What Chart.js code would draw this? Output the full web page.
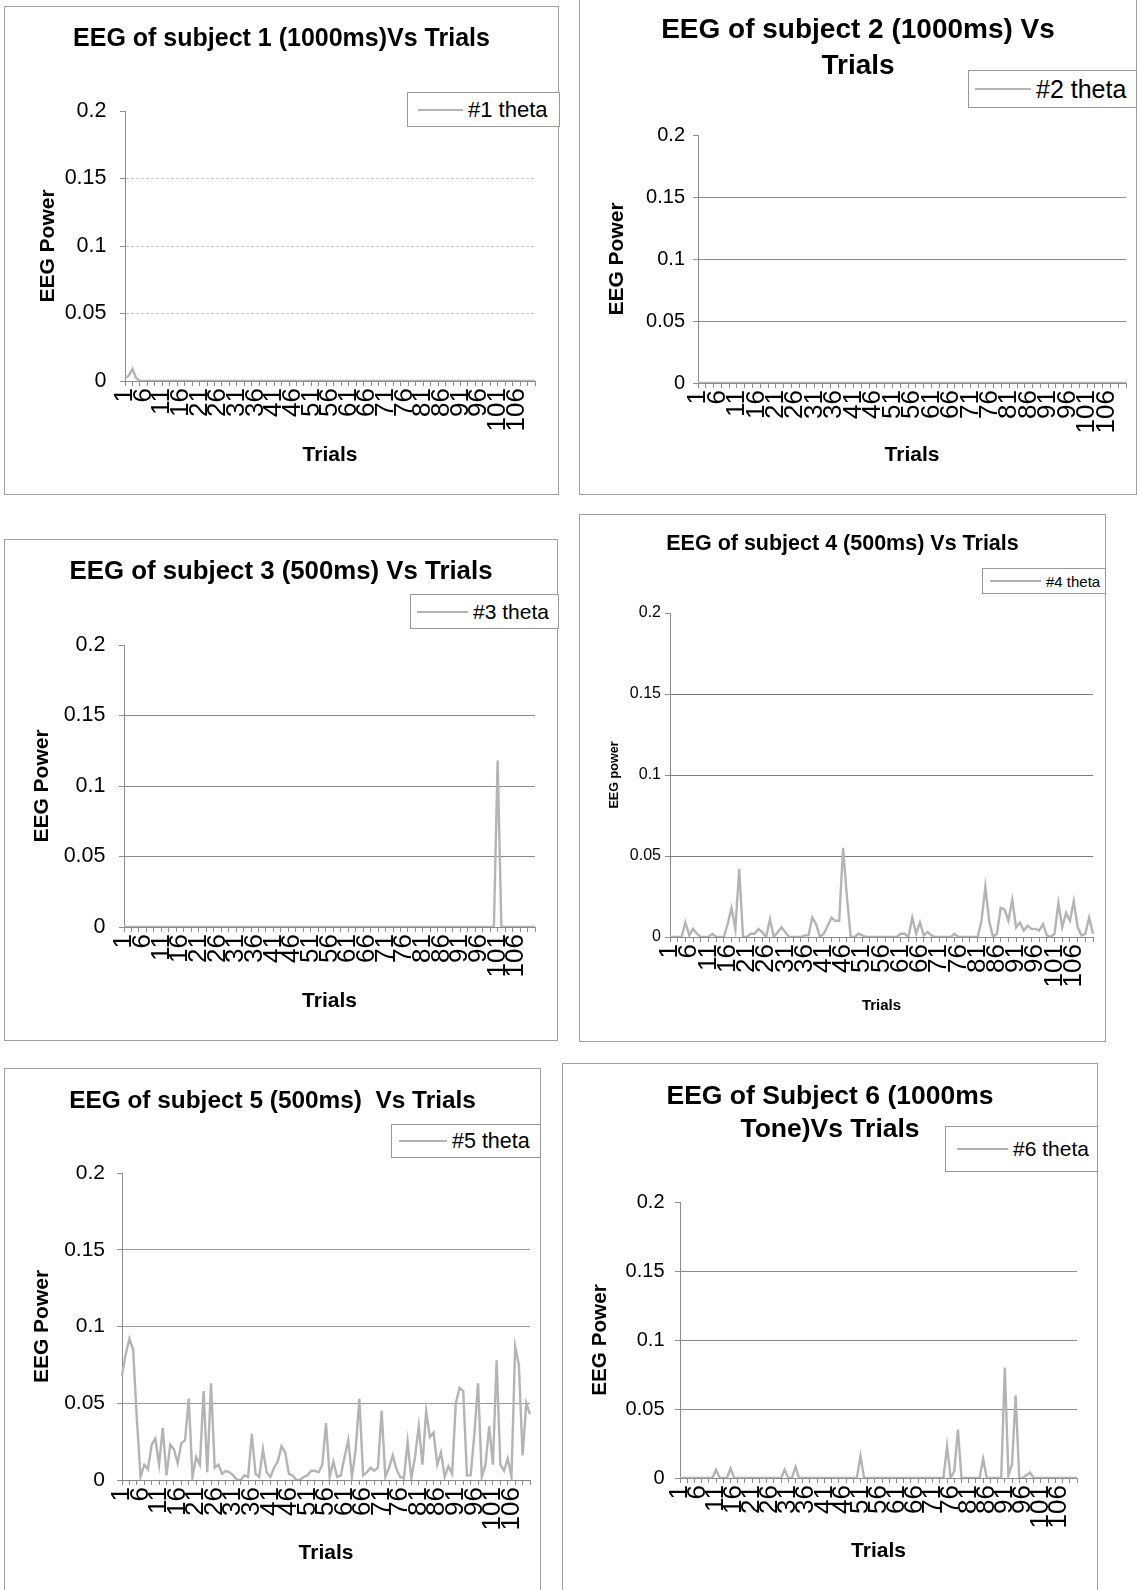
<!DOCTYPE html>
<html>
<head>
  <meta charset="UTF-8">
  <title>EEG theta power vs trials</title>
  <script src="https://cdn.jsdelivr.net/npm/chart.js"></script>
  <style>
    body { margin: 0; background: #fff; font-family: "Liberation Sans", Arial, sans-serif; }
    #page { position: relative; width: 1138px; height: 1590px; overflow: hidden; background: #fff; }
    .frame { position: absolute; border: 1px solid #a0a0a0; box-sizing: border-box; pointer-events: none; }
    .legend {
      position: absolute;
      border: 1px solid #9a9a9a;
      box-sizing: border-box;
      background: #fff;
      display: flex;
      align-items: center;
      white-space: nowrap;
      color: #000;
    }
    .legend .swatch { display: inline-block; border-top: 2px solid #b4b4b4; margin-right: 5px; }
  </style>
</head>
<body>
  <div id="page"></div>

  <script>
    // trial numbers on the category axis
    const trials = [];
    for (let i = 1; i <= 111; i++) trials.push(String(i));

    const theta1 = [
      0.002, 0.004, 0.009, 0.002, 0, 0, 0, 0, 0, 0,
      0, 0, 0, 0, 0, 0, 0, 0, 0, 0,
      0, 0, 0, 0, 0, 0, 0, 0, 0, 0,
      0, 0, 0, 0, 0, 0, 0, 0, 0, 0,
      0, 0, 0, 0, 0, 0, 0, 0, 0, 0,
      0, 0, 0, 0, 0, 0, 0, 0, 0, 0,
      0, 0, 0, 0, 0, 0, 0, 0, 0, 0,
      0, 0, 0, 0, 0, 0, 0, 0, 0, 0,
      0, 0, 0, 0, 0, 0, 0, 0, 0, 0,
      0, 0, 0, 0, 0, 0, 0, 0, 0, 0,
      0, 0, 0, 0, 0, 0, 0, 0, 0, 0,
      0
    ];

    const theta2 = [
      0, 0, 0, 0, 0, 0, 0, 0, 0, 0,
      0, 0, 0, 0, 0, 0, 0, 0, 0, 0,
      0, 0, 0, 0, 0, 0, 0, 0, 0, 0,
      0, 0, 0, 0, 0, 0, 0, 0, 0, 0,
      0, 0, 0, 0, 0, 0, 0, 0, 0, 0,
      0, 0, 0, 0, 0, 0, 0, 0, 0, 0,
      0, 0, 0, 0, 0, 0, 0, 0, 0, 0,
      0, 0, 0, 0, 0, 0, 0, 0, 0, 0,
      0, 0, 0, 0, 0, 0, 0, 0, 0, 0,
      0, 0, 0, 0, 0, 0, 0, 0, 0, 0,
      0, 0, 0, 0, 0, 0, 0, 0, 0, 0,
      0
    ];

    const theta3 = [
      0, 0, 0, 0, 0, 0, 0, 0, 0, 0,
      0, 0, 0, 0, 0, 0, 0, 0, 0, 0,
      0, 0, 0, 0, 0, 0, 0, 0, 0, 0,
      0, 0, 0, 0, 0, 0, 0, 0, 0, 0,
      0, 0, 0, 0, 0, 0, 0, 0, 0, 0,
      0, 0, 0, 0, 0, 0, 0, 0, 0, 0,
      0, 0, 0, 0, 0, 0, 0, 0, 0, 0,
      0, 0, 0, 0, 0, 0, 0, 0, 0, 0,
      0, 0, 0, 0, 0, 0, 0, 0, 0, 0,
      0, 0, 0, 0, 0, 0, 0, 0, 0, 0,
      0.118, 0, 0, 0, 0, 0, 0, 0, 0, 0,
      0
    ];

    const theta4 = [
      0, 0, 0, 0, 0.009, 0.001, 0.005, 0.002, 0, 0,
      0, 0.002, 0, 0, 0, 0.008, 0.018, 0.005, 0.042, 0,
      0, 0.002, 0.002, 0.005, 0.003, 0, 0.011, 0, 0.003, 0.006,
      0.003, 0, 0, 0, 0, 0.001, 0.001, 0.012, 0.008, 0,
      0.002, 0.007, 0.012, 0.01, 0.01, 0.055, 0.025, 0, 0, 0.002,
      0.001, 0, 0, 0, 0, 0, 0, 0, 0, 0,
      0.002, 0.002, 0, 0.012, 0.002, 0.009, 0.001, 0.003, 0.001, 0,
      0, 0, 0, 0, 0.002, 0, 0, 0, 0, 0,
      0, 0.01, 0.031, 0.01, 0, 0.002, 0.018, 0.017, 0.01, 0.023,
      0.006, 0.009, 0.004, 0.007, 0.005, 0.005, 0.004, 0.008, 0.001, 0,
      0.002, 0.021, 0.006, 0.015, 0.01, 0.022, 0.006, 0.001, 0.002, 0.012,
      0.002
    ];

    const theta5 = [
      0.068, 0.082, 0.092, 0.085, 0.04, 0.002, 0.01, 0.007, 0.023, 0.027,
      0.01, 0.034, 0.003, 0.023, 0.02, 0.011, 0.024, 0.026, 0.053, 0.002,
      0.015, 0.01, 0.058, 0.005, 0.063, 0.008, 0.01, 0.004, 0.006, 0.005,
      0.003, 0, 0, 0.003, 0.002, 0.03, 0.004, 0.002, 0.02, 0.005,
      0.002, 0.008, 0.012, 0.022, 0.018, 0.004, 0.003, 0, 0, 0.002,
      0.003, 0.006, 0.006, 0.005, 0.01, 0.037, 0.002, 0.012, 0.002, 0.003,
      0.015, 0.026, 0.002, 0.02, 0.053, 0.003, 0.005, 0.008, 0.006, 0.008,
      0.045, 0.002, 0.008, 0.016, 0.007, 0.002, 0.001, 0.025, 0.001, 0.015,
      0.035, 0.01, 0.045, 0.028, 0.031, 0.01, 0.018, 0.002, 0.009, 0.004,
      0.05, 0.06, 0.058, 0.003, 0.003, 0.03, 0.063, 0.002, 0.01, 0.035,
      0.01, 0.078, 0.01, 0.006, 0.014, 0.002, 0.087, 0.075, 0.016, 0.05,
      0.043
    ];

    const theta6 = [
      0, 0, 0, 0, 0, 0, 0, 0, 0, 0,
      0.006, 0, 0, 0, 0.007, 0, 0, 0, 0, 0,
      0, 0, 0, 0, 0, 0, 0, 0, 0, 0.006,
      0, 0, 0.008, 0, 0, 0, 0, 0, 0, 0,
      0, 0, 0, 0, 0, 0, 0, 0, 0, 0,
      0.016, 0, 0, 0, 0, 0, 0, 0, 0, 0,
      0, 0, 0, 0, 0, 0, 0, 0, 0, 0,
      0, 0, 0, 0, 0.023, 0, 0.005, 0.035, 0, 0,
      0, 0, 0, 0, 0.014, 0, 0, 0, 0, 0,
      0.08, 0.002, 0.01, 0.06, 0, 0, 0.002, 0.004, 0, 0,
      0, 0, 0, 0, 0, 0, 0, 0, 0, 0,
      0
    ];

    const yTicks = [0, 0.05, 0.1, 0.15, 0.2];
    const lastLabelledTrial = 106;   // every 5th trial is labelled, 1 ... 106

    const FONT = '"Liberation Sans", Arial, sans-serif';
    const lineColor = "#b4b4b4";
    const axisGray = "#8c8c8c";

    // page layout of the six charts (pixel boxes)
    const panels = [
      { series: theta1, label: "#1 theta", title: ["EEG of subject 1 (1000ms)Vs Trials"], yTitle: "EEG Power",
        box: [4, 6, 559, 495], area: [125, 111, 535, 381],
        titleSize: 25, titleY: 39, lineGap: 1.2, tickSize: 21.5, tickGap: 13.5,
        yTitleSize: 21, yTitleX: 48, xTitleSize: 21, xTitleY: 455, xLabelSize: 26,
        legendBox: [407, 92, 153, 35], legendSize: 22, swatch: [10, 45], grid: "#c8c8c8", dash: [3, 2] },
      { series: theta2, label: "#2 theta", title: ["EEG of subject 2 (1000ms) Vs", "Trials"], yTitle: "EEG Power",
        box: [579, -2, 1137, 495], area: [698, 135, 1126, 383],
        titleSize: 28, titleY: 30, lineGap: 1.286, tickSize: 20, tickGap: 8,
        yTitleSize: 21, yTitleX: 617, xTitleSize: 21, xTitleY: 455, xLabelSize: 26,
        legendBox: [968, 70, 169, 38], legendSize: 25, swatch: [6, 56], grid: "#8a8a8a", dash: [] },
      { series: theta3, label: "#3 theta", title: ["EEG of subject 3 (500ms) Vs Trials"], yTitle: "EEG Power",
        box: [4, 539, 558, 1041], area: [124, 645, 535, 927],
        titleSize: 25.8, titleY: 572, lineGap: 1.2, tickSize: 21.5, tickGap: 13.5,
        yTitleSize: 21, yTitleX: 42, xTitleSize: 21, xTitleY: 1001, xLabelSize: 26,
        legendBox: [410, 594, 149, 35], legendSize: 21, swatch: [6, 51], grid: "#8a8a8a", dash: [] },
      { series: theta4, label: "#4 theta", title: ["EEG of subject 4 (500ms) Vs Trials"], yTitle: "EEG power",
        box: [579, 514, 1106, 1042], area: [670, 613, 1093, 937],
        titleSize: 21.5, titleY: 544, lineGap: 1.2, tickSize: 16, tickGap: 4,
        yTitleSize: 12.6, yTitleX: 615, xTitleSize: 15, xTitleY: 1006, xLabelSize: 26,
        legendBox: [982, 568, 124, 26], legendSize: 15, swatch: [7, 51], grid: "#7a7a7a", dash: [] },
      { series: theta5, label: "#5 theta", title: ["EEG of subject 5 (500ms)  Vs Trials"], yTitle: "EEG Power",
        box: [4, 1068, 541, 1600], area: [122, 1173, 530, 1480],
        titleSize: 24.4, titleY: 1101, lineGap: 1.2, tickSize: 21, tickGap: 12,
        yTitleSize: 21, yTitleX: 42, xTitleSize: 21, xTitleY: 1553, xLabelSize: 26,
        legendBox: [391, 1124, 150, 34], legendSize: 21.5, swatch: [7, 48], grid: "#999999", dash: [] },
      { series: theta6, label: "#6 theta", title: ["EEG of Subject 6 (1000ms", "Tone)Vs Trials"], yTitle: "EEG Power",
        box: [562, 1063, 1098, 1600], area: [680, 1202, 1077, 1478],
        titleSize: 26.5, titleY: 1097, lineGap: 1.245, tickSize: 20, tickGap: 10.5,
        yTitleSize: 20.7, yTitleX: 600, xTitleSize: 21, xTitleY: 1551, xLabelSize: 26,
        legendBox: [945, 1126, 153, 46], legendSize: 21, swatch: [11, 51], grid: "#8a8a8a", dash: [] }
    ];

    const page = document.getElementById("page");

    panels.forEach(p => {
      const [bx, by, bx2, by2] = p.box;
      const bw = bx2 - bx, bh = by2 - by;
      const [ax0, ayTop, ax1, ay0] = p.area;

      const canvas = document.createElement("canvas");
      canvas.width = bw;
      canvas.height = bh;
      canvas.style.cssText = `position:absolute;left:${bx}px;top:${by}px;width:${bw}px;height:${bh}px`;
      page.appendChild(canvas);

      const frame = document.createElement("div");
      frame.className = "frame";
      frame.style.cssText = `left:${bx}px;top:${by}px;width:${bw}px;height:${bh}px`;
      page.appendChild(frame);

      // title block sized so the plot area starts where the scan shows it
      const titleLh = p.titleSize * p.lineGap;
      const titleTop = p.titleY - by - titleLh / 2;
      const titleBottom = (ayTop - by) - titleTop - titleLh * p.title.length;
      const yLh = p.yTitleSize * 1.2;
      const xLh = p.xTitleSize * 1.2;
      const rightGap = bw - (ax1 - bx);

      new Chart(canvas.getContext("2d"), {
        type: "line",
        data: {
          labels: trials,
          datasets: [{
            label: p.label,
            data: p.series,
            borderColor: lineColor,
            borderWidth: 2.4,
            pointRadius: 0,
            tension: 0,
            fill: false
          }]
        },
        options: {
          responsive: false,
          animation: false,
          layout: { padding: 0 },
          plugins: {
            legend: { display: false },
            tooltip: { enabled: false },
            title: {
              display: true,
              text: p.title,
              color: "#000",
              font: { family: FONT, size: p.titleSize, weight: "bold", lineHeight: p.lineGap },
              padding: { top: titleTop, bottom: titleBottom }
            }
          },
          scales: {
            x: {
              type: "category",
              offset: false,
              // right gap comes from the axis padding so the title stays centred on the whole box
              afterFit: s => { s.height = bh - (ay0 - by); s.paddingLeft = 0; s.paddingRight = rightGap; },
              grid: {
                drawOnChartArea: false,
                tickLength: 5,
                tickColor: ctx => ctx.index % 2 === 0 ? axisGray : "rgba(0,0,0,0)"
              },
              border: { color: axisGray },
              ticks: {
                autoSkip: false,
                maxRotation: 90,
                minRotation: 90,
                padding: 2,
                color: "#000",
                font: { family: FONT, size: p.xLabelSize },
                callback: (v, i) => (i % 5 === 0 && i < lastLabelledTrial) ? trials[i] : ""
              },
              title: {
                display: true,
                text: "Trials",
                color: "#000",
                font: { family: FONT, size: p.xTitleSize, weight: "bold" },
                padding: { top: 0, bottom: bh - (p.xTitleY - by) - xLh / 2 }
              }
            },
            y: {
              min: yTicks[0],
              max: yTicks[yTicks.length - 1],
              afterFit: s => { s.width = ax0 - bx; s.paddingTop = 0; s.paddingBottom = 0; },
              afterBuildTicks: s => { s.ticks = yTicks.map(v => ({ value: v })); },
              ticks: {
                padding: p.tickGap,
                color: "#000",
                font: { family: FONT, size: p.tickSize },
                callback: v => String(+v.toFixed(2))
              },
              grid: {
                color: ctx => (ctx.tick && ctx.tick.value > 0 && ctx.tick.value < 0.2) ? p.grid : "rgba(0,0,0,0)",
                tickLength: 5,
                tickColor: axisGray
              },
              border: { color: axisGray, dash: p.dash },
              title: {
                display: true,
                text: p.yTitle,
                color: "#000",
                font: { family: FONT, size: p.yTitleSize, weight: "bold" },
                padding: { top: p.yTitleX - bx - yLh / 2, bottom: 0 }
              }
            }
          }
        }
      });

      const [lx, ly, lw, lh] = p.legendBox;
      const legend = document.createElement("div");
      legend.className = "legend";
      legend.style.cssText += `left:${lx}px;top:${ly}px;width:${lw}px;height:${lh}px;font-size:${p.legendSize}px;padding-left:${p.swatch[0]}px`;
      legend.innerHTML = `<span class="swatch" style="width:${p.swatch[1]}px"></span>${p.label}`;
      page.appendChild(legend);
    });
  </script>
</body>
</html>
